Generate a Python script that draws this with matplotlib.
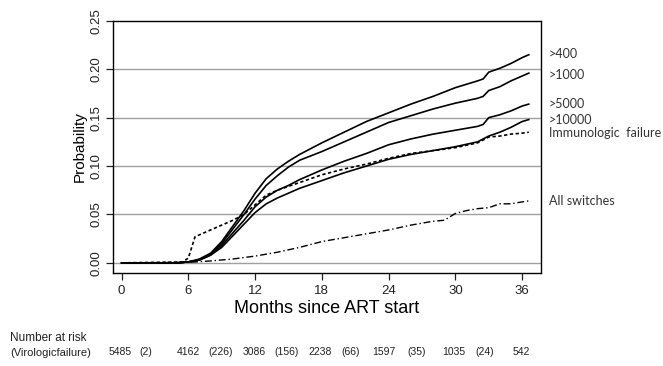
import matplotlib
matplotlib.use("Agg")
import matplotlib.pyplot as plt

plt.rcParams["font.family"] = ["Liberation Sans", "DejaVu Sans"]

# months since ART start and cumulative probabilities
months = [0, 5, 6, 7, 8, 9, 10, 11, 12, 13, 14, 15, 16, 18, 20, 22, 24,
          26, 28, 30, 32, 32.5, 33, 34, 35, 36, 36.6]
vl_400 = [0, 0.000, 0.001, 0.004, 0.010, 0.022, 0.038, 0.054, 0.072, 0.087,
          0.097, 0.105, 0.112, 0.124, 0.135, 0.146, 0.155, 0.164, 0.172,
          0.181, 0.188, 0.190, 0.197, 0.201, 0.206, 0.212, 0.215]
vl_1000 = [0, 0.000, 0.001, 0.003, 0.009, 0.020, 0.035, 0.050, 0.066, 0.080,
           0.090, 0.099, 0.106, 0.115, 0.125, 0.135, 0.145, 0.152, 0.159,
           0.165, 0.170, 0.172, 0.178, 0.182, 0.188, 0.193, 0.196]
vl_5000 = [0, 0.000, 0.001, 0.003, 0.008, 0.018, 0.031, 0.044, 0.058, 0.068,
           0.075, 0.080, 0.086, 0.096, 0.105, 0.113, 0.122, 0.128, 0.133,
           0.137, 0.141, 0.143, 0.150, 0.153, 0.157, 0.162, 0.164]
vl_10000 = [0, 0.000, 0.001, 0.003, 0.008, 0.016, 0.028, 0.040, 0.052, 0.061,
            0.067, 0.072, 0.077, 0.085, 0.093, 0.100, 0.107, 0.112, 0.116,
            0.120, 0.125, 0.128, 0.131, 0.135, 0.140, 0.146, 0.148]

immuno_months = [0, 5.5, 6, 6.6, 8, 9, 10, 11, 12, 13, 14, 15, 16, 18, 20, 22,
                 24, 26, 28, 30, 32, 33, 34, 35, 36, 36.6]
immuno = [0, 0.001, 0.005, 0.027, 0.034, 0.039, 0.044, 0.050, 0.060, 0.070,
          0.075, 0.079, 0.083, 0.091, 0.097, 0.102, 0.108, 0.113, 0.116,
          0.119, 0.124, 0.130, 0.131, 0.133, 0.134, 0.135]

switch_months = [0, 6, 8, 10, 12, 14, 16, 18, 20, 22, 24, 26, 28, 29, 30, 31,
                 32, 33, 34, 35, 36, 36.6]
all_switches = [0, 0.0005, 0.002, 0.004, 0.007, 0.011, 0.016, 0.022, 0.026,
                0.030, 0.034, 0.039, 0.043, 0.044, 0.051, 0.054, 0.056, 0.057,
                0.061, 0.061, 0.063, 0.064]

curve_labels = [">400", ">1000", ">5000", ">10000", "Immunologic  failure", "All switches"]
label_y = [0.216, 0.194, 0.164, 0.148, 0.134, 0.064]

risk_numbers = ["5485", "(2)", "4162", "(226)", "3086", "(156)", "2238",
                "(66)", "1597", "(35)", "1035", "(24)", "542"]
risk_x = [120, 146, 188, 221, 254, 287, 320, 351, 384, 417, 454, 485, 521]

fig = plt.figure(figsize=(6.63, 3.66), dpi=100)
ax = fig.add_axes([0.170, 0.254, 0.646, 0.689])

for g in [0, 0.05, 0.10, 0.15, 0.20]:
    ax.axhline(g, color="#a0a0a0", lw=1.0, zorder=1)

for ys in [vl_400, vl_1000, vl_5000, vl_10000]:
    ax.plot(months, ys, color="black", lw=1.2, zorder=3)
ax.plot(immuno_months, immuno, color="black", lw=1.2, ls=(0, (2, 1.5)), zorder=3)
ax.plot(switch_months, all_switches, color="black", lw=1.0,
        ls=(0, (5, 2, 1, 2)), zorder=3)

ax.set_xlim(-0.8, 37.7)
ax.set_ylim(-0.0105, 0.25)
ax.set_xticks([0, 6, 12, 18, 24, 30, 36])
ax.set_yticks([0, 0.05, 0.10, 0.15, 0.20, 0.25])
ax.set_yticklabels(["0.00", "0.05", "0.10", "0.15", "0.20", "0.25"],
                   rotation=90, va="center")
ax.tick_params(axis="both", labelsize=9.5, length=5, width=0.9, colors="#222222")
ax.tick_params(axis="y", pad=2)
for s in ax.spines.values():
    s.set_linewidth(1.0)

ax.set_xlabel("Months since ART start", fontsize=13, labelpad=2)
ax.set_ylabel("Probability", fontsize=11, labelpad=3)

for txt, yv in zip(curve_labels, label_y):
    ax.text(1.018, yv, txt, transform=ax.get_yaxis_transform(), fontsize=9,
            family="Lato", color="#333333", va="center", ha="left")

fig.text(10 / 663, 1 - 338 / 366, "Number at risk", fontsize=8.5, va="center",
         ha="left", color="#222222")
fig.text(10 / 663, 1 - 353 / 366, "(Virologicfailure)", fontsize=8, va="center",
         ha="left", color="#222222")
for txt, xp in zip(risk_numbers, risk_x):
    fig.text(xp / 663, 1 - 352 / 366, txt, fontsize=7.5, va="center",
             ha="center", color="#222222")

fig.savefig("out.png", dpi=100)
